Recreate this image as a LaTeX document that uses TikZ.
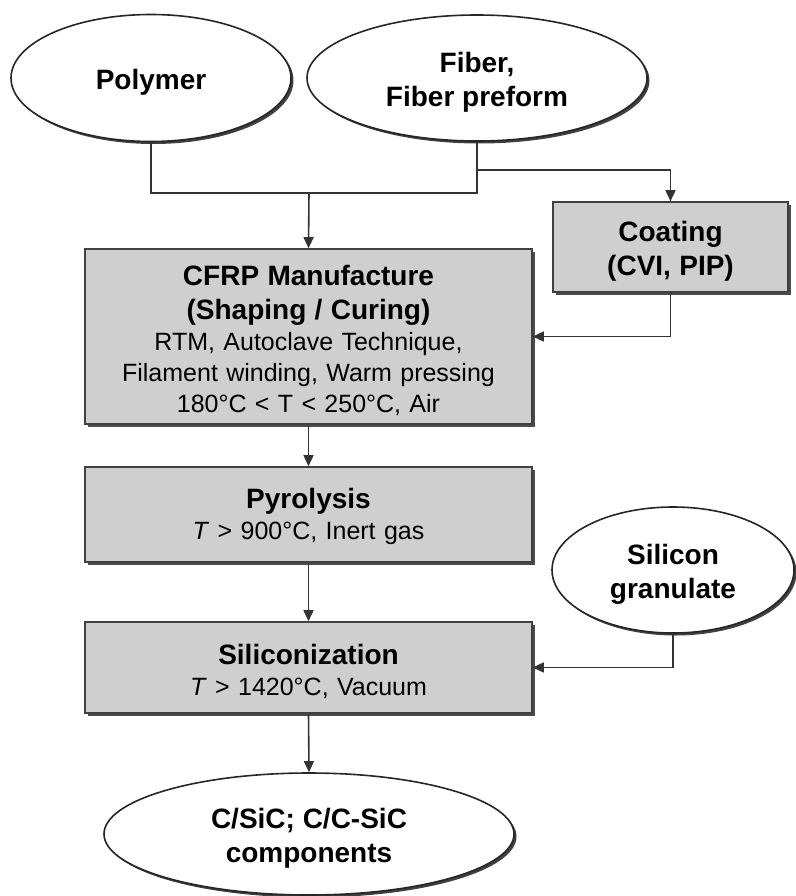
\documentclass[tikz,border=0pt]{standalone}
\usepackage{fontspec}
\setmainfont{Liberation Sans}
\usetikzlibrary{shapes.geometric,shadows,arrows.meta}
\newcommand\bfnt{\fontsize{28}{34}\selectfont\bfseries}
\newcommand\rgnt{\fontsize{25}{31}\selectfont}
\newcommand\topstrut{\rule{0pt}{29pt}}
\begin{document}
\begin{tikzpicture}[x=1pt,y=-1pt,
  conn/.style={draw=black!80, line width=1.6pt},
  arr/.style={conn,-{Triangle[length=11pt,width=10pt]}},
  procbox/.style={rectangle, draw=black!75, line width=1.6pt, fill=black!19, inner sep=0pt, align=center, font=\rgnt,
    drop shadow={shadow xshift=3pt,shadow yshift=-3pt,fill=black!70,opacity=1}},
  oval/.style={ellipse, draw=black!85, line width=1.6pt, fill=white, inner sep=0pt, align=center, font=\bfnt,
    drop shadow={shadow xshift=2.5pt,shadow yshift=-2.5pt,fill=black!75,opacity=1}}]
\useasboundingbox (0,0) rectangle (795,896);

\node[oval, minimum width=280pt, minimum height=127pt] (poly) at (151,78) {\topstrut Polymer};
\node[oval, minimum width=340pt, minimum height=126pt] (fiber) at (477,78) {\topstrut Fiber,\\Fiber preform};

\node[procbox, text width=447pt, minimum height=175pt] (cfrp) at (308.5,336.5)
  {{\bfnt\topstrut CFRP Manufacture\\(Shaping / Curing)\par}
   RTM, Autoclave Technique,\\Filament winding, Warm pressing\\180°C < T < 250°C, Air};
\node[procbox, text width=235pt, minimum height=90pt] (coat) at (670.5,247)
  {{\bfnt\topstrut Coating\\(CVI, PIP)\par}};
\node[procbox, text width=447pt, minimum height=95pt] (pyro) at (308.5,514.5)
  {{\bfnt\rule{0pt}{25pt}Pyrolysis\par}\textit{T} > 900°C, Inert gas};
\node[oval, minimum width=242pt, minimum height=126pt] (sil) at (673,570) {\topstrut Silicon\\granulate};
\node[procbox, text width=447pt, minimum height=91pt] (sicon) at (308.5,667.5)
  {{\bfnt\topstrut Siliconization\par}\textit{T} > 1420°C, Vacuum};
\node[oval, minimum width=410pt, minimum height=122pt] (comp) at (309,834) {\topstrut C/SiC; C/C-SiC\\components};

\coordinate (j1) at (309,193);
\coordinate (jp) at (poly.south |- j1);
\coordinate (jf) at (fiber.south |- j1);
\coordinate (br) at (477,170);

\draw[conn] (poly.south) -- (jp) -- (jf) -- (fiber.south);
\draw[arr] (j1) -- (cfrp.north);
\draw[arr] (br) -| (coat.north);
\draw[arr] (coat.south) |- (cfrp.east);
\draw[arr] (cfrp.south) -- (pyro.north);
\draw[arr] (pyro.south) -- (sicon.north);
\draw[arr] (sil.south) |- (sicon.east);
\draw[arr] (sicon.south) -- (comp.north);
\end{tikzpicture}
\end{document}
